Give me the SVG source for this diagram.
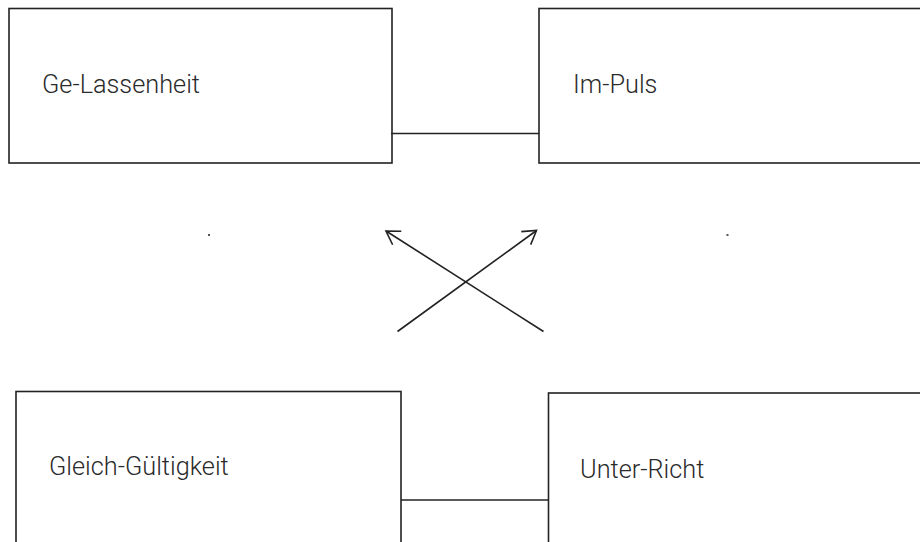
<svg xmlns="http://www.w3.org/2000/svg" width="920" height="542" viewBox="0 0 920 542">
  <style>
    .box { fill: #ffffff; stroke: #222222; stroke-width: 1.6; }
    .label { font-family: Roboto, "Liberation Sans", sans-serif; font-weight: 300; font-size: 25.3px; fill: #2a2a2a; }
    .link { stroke: #222222; stroke-width: 1.6; fill: none; }
    .dot { fill: #555555; }
  </style>
  <defs>
    <marker id="openArrow" viewBox="0 0 20 20" refX="18" refY="10" markerWidth="20" markerHeight="20" markerUnits="userSpaceOnUse" orient="auto">
      <path d="M5 2 L18 10 L5 18" fill="none" stroke="#222222" stroke-width="1.6"/>
    </marker>
  </defs>
  <rect width="920" height="542" fill="#ffffff"/>

  <g id="node-gelassenheit">
    <rect class="box" x="9" y="8.5" width="383" height="154.5"/>
    <text class="label" x="42" y="93">Ge-Lassenheit</text>
  </g>
  <g id="node-impuls">
    <rect class="box" x="539" y="8.5" width="400" height="154.5"/>
    <text class="label" x="573" y="93">Im-Puls</text>
  </g>
  <g id="node-gleichgueltigkeit">
    <rect class="box" x="16" y="391.5" width="385" height="170"/>
    <text class="label" x="49" y="475">Gleich-Gültigkeit</text>
  </g>
  <g id="node-unterricht">
    <rect class="box" x="548.5" y="393" width="400" height="170"/>
    <text class="label" x="580" y="478">Unter-Richt</text>
  </g>

  <g id="connectors">
    <line class="link" x1="391" y1="133.5" x2="539" y2="133.5"/>
    <line class="link" x1="401" y1="500" x2="548.5" y2="500"/>
    <line class="link" x1="543.5" y1="331.5" x2="386" y2="231" marker-end="url(#openArrow)"/>
    <line class="link" x1="397.5" y1="331.5" x2="536.5" y2="230.5" marker-end="url(#openArrow)"/>
  </g>

  <rect class="dot" x="208" y="234" width="2" height="2"/>
  <rect class="dot" x="726.5" y="234" width="2" height="2"/>
</svg>
